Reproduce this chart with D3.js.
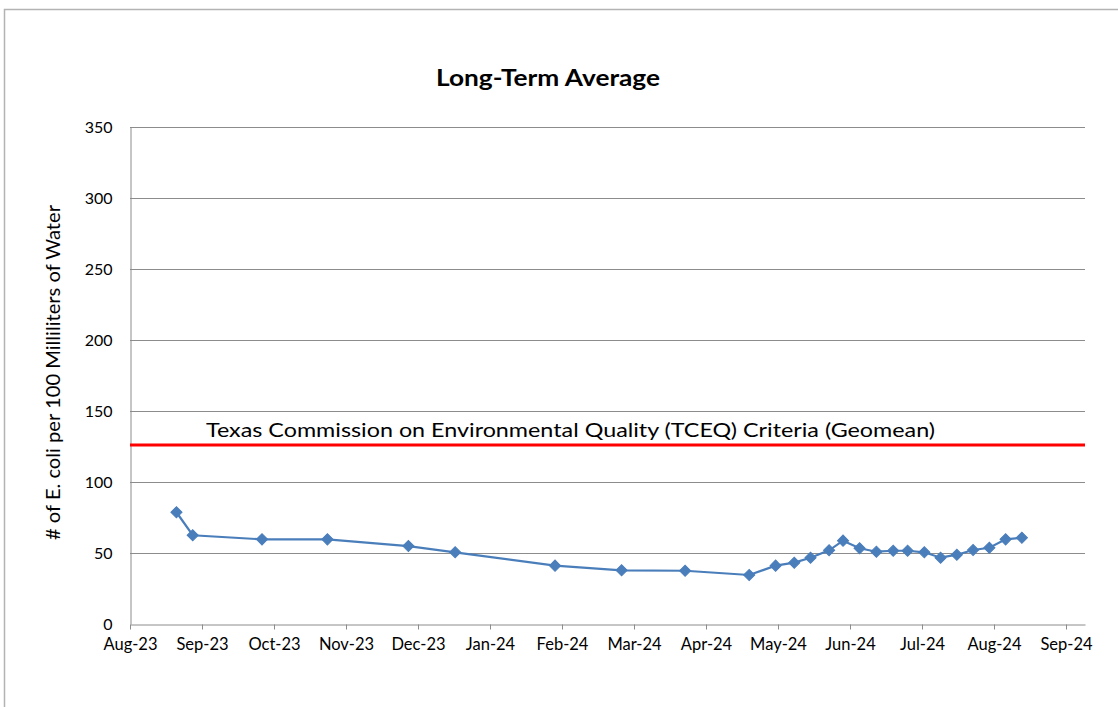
<!DOCTYPE html>
<html>
<head>
<meta charset="utf-8">
<script src="https://cdn.jsdelivr.net/npm/d3@7"></script>
<style>
  html, body { margin: 0; padding: 0; background: #fff; }
  svg { display: block; font-family: Lato, "Open Sans", sans-serif; }
</style>
</head>
<body>
<svg id="chart" width="1118" height="707"></svg>
<script>
// Long-term average E. coli sampling dates and values
const sampleDates = [
  "2023-08-21", "2023-08-28", "2023-09-26", "2023-10-24", "2023-11-27",
  "2023-12-17", "2024-01-29", "2024-02-25", "2024-03-23", "2024-04-19",
  "2024-04-30", "2024-05-08", "2024-05-15", "2024-05-23", "2024-05-29",
  "2024-06-05", "2024-06-12", "2024-06-19", "2024-06-25", "2024-07-02",
  "2024-07-09", "2024-07-16", "2024-07-23", "2024-07-30", "2024-08-06",
  "2024-08-13"
];
const averageValues = [
  78.7, 62.5, 59.6, 59.6, 54.9,
  50.5, 41.1, 37.8, 37.5, 34.5,
  41.1, 43.2, 46.7, 51.9, 58.7,
  53.3, 50.9, 51.6, 51.6, 50.5,
  46.7, 48.8, 52.1, 53.7, 59.6,
  60.8
];
const criteriaValue = 126;
const criteriaLabel = "Texas Commission on Environmental Quality (TCEQ) Criteria (Geomean)";
const yTicks = [0, 50, 100, 150, 200, 250, 300, 350];
const monthTicks = [
  "2023-08-01", "2023-09-01", "2023-10-01", "2023-11-01", "2023-12-01",
  "2024-01-01", "2024-02-01", "2024-03-01", "2024-04-01", "2024-05-01",
  "2024-06-01", "2024-07-01", "2024-08-01", "2024-09-01"
];
const axisEnd = "2024-09-08";

const parse = d3.utcParse("%Y-%m-%d");
const fmt = d3.utcFormat("%b-%y");
const data = sampleDates.map((d, i) => ({ date: parse(d), value: averageValues[i] }));
const tickDates = monthTicks.map(parse);

const svg = d3.select("#chart");
const W = 1118, H = 707;
const plot = { left: 130, right: 1085, top: 127, bottom: 624 };
const monthW = 72;

// Outer chart frame
svg.append("path")
  .attr("d", `M4.5,${H} V9.5 H${W}`)
  .attr("fill", "none")
  .attr("stroke", "#b3b3b3")
  .attr("stroke-width", 1.5);

// Months are spaced evenly along the date axis
const x = d3.scaleUtc()
  .domain([...tickDates, parse(axisEnd)])
  .range([...tickDates.map((d, i) => plot.left + i * monthW), plot.right]);

const y = d3.scaleLinear()
  .domain([0, 350])
  .range([plot.bottom, plot.top]);

// Horizontal gridlines
svg.append("g")
  .selectAll("line")
  .data(yTicks.filter(v => v > 0))
  .join("line")
  .attr("x1", plot.left)
  .attr("x2", plot.right)
  .attr("y1", d => Math.round(y(d)) + 0.5)
  .attr("y2", d => Math.round(y(d)) + 0.5)
  .attr("stroke", "#8c8c8c")
  .attr("stroke-width", 1);

// Y axis
const yAxis = svg.append("g")
  .attr("transform", `translate(${plot.left + 0.5},0)`)
  .call(d3.axisLeft(y).tickValues(yTicks).tickSize(0).tickPadding(18));
yAxis.select(".domain").attr("stroke", "#8c8c8c");
yAxis.selectAll("text")
  .attr("font-family", "Lato, 'Open Sans', sans-serif")
  .attr("font-size", 16)
  .attr("fill", "#000");

// X axis
const xAxis = svg.append("g")
  .attr("transform", `translate(0,${plot.bottom + 0.5})`)
  .call(d3.axisBottom(x).tickValues(tickDates).tickFormat(fmt).tickSize(5).tickSizeOuter(0).tickPadding(9));
xAxis.select(".domain").attr("stroke", "#8c8c8c");
xAxis.selectAll(".tick line").attr("stroke", "#8c8c8c");
xAxis.selectAll("text")
  .attr("font-family", "Lato, 'Open Sans', sans-serif")
  .attr("font-size", 16.5)
  .attr("fill", "#000");

// Criteria reference line
svg.append("line")
  .attr("x1", plot.left)
  .attr("x2", plot.right)
  .attr("y1", y(criteriaValue))
  .attr("y2", y(criteriaValue))
  .attr("stroke", "#ff0000")
  .attr("stroke-width", 3);

svg.append("text")
  .attr("x", 206)
  .attr("y", y(criteriaValue) - 8)
  .attr("font-size", 20)
  .attr("textLength", 729)
  .attr("lengthAdjust", "spacingAndGlyphs")
  .attr("fill", "#000")
  .text(criteriaLabel);

// Average series line and diamond markers
const line = d3.line()
  .x(d => x(d.date))
  .y(d => y(d.value));

svg.append("path")
  .datum(data)
  .attr("d", line)
  .attr("fill", "none")
  .attr("stroke", "#4a7ebb")
  .attr("stroke-width", 2.2);

svg.append("g")
  .selectAll("path")
  .data(data)
  .join("path")
  .attr("d", d3.symbol(d3.symbolSquare, 62)())
  .attr("transform", d => `translate(${x(d.date)},${y(d.value)}) rotate(45)`)
  .attr("fill", "#4a7ebb")
  .attr("stroke", "#4a7ebb")
  .attr("stroke-width", 1);

// Title
svg.append("text")
  .attr("x", 548)
  .attr("y", 86)
  .attr("text-anchor", "middle")
  .attr("font-size", 22)
  .attr("font-weight", "bold")
  .attr("textLength", 224)
  .attr("lengthAdjust", "spacingAndGlyphs")
  .attr("fill", "#000")
  .text("Long-Term Average");

// Y axis title
svg.append("text")
  .attr("transform", `translate(60,${(plot.top + plot.bottom) / 2 - 3}) rotate(-90)`)
  .attr("text-anchor", "middle")
  .attr("font-size", 19)
  .attr("textLength", 335)
  .attr("lengthAdjust", "spacingAndGlyphs")
  .attr("fill", "#000")
  .text("# of E. coli per 100 Milliliters of Water");
</script>
</body>
</html>
